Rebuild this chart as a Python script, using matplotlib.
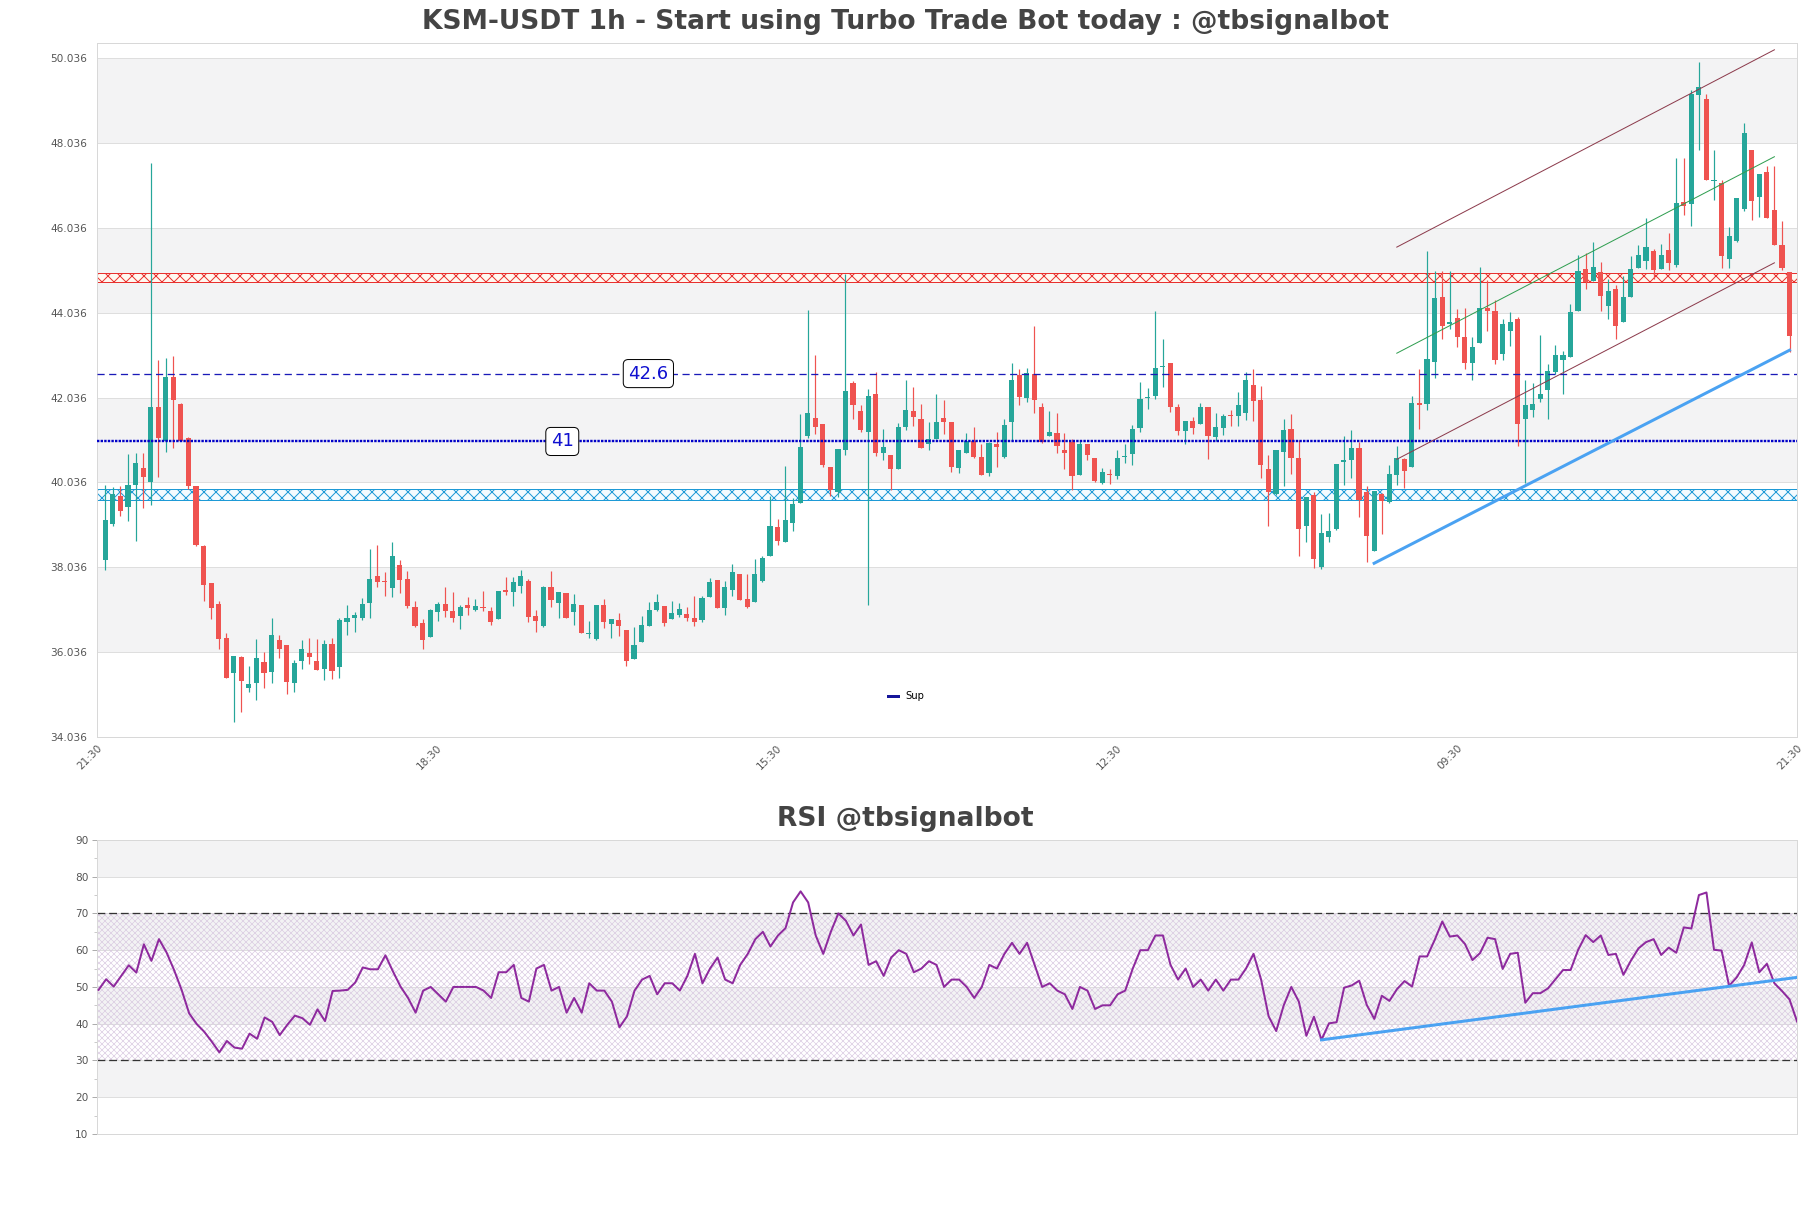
import numpy as np
import matplotlib
matplotlib.use('Agg')
import matplotlib.pyplot as plt

# ── Candles (1h) ───────────────────────────────────────────────────────────
opens = [38.21, 39.06, 39.72, 39.45, 39.97, 40.38, 40.05, 41.81, 41.01, 42.53,
         41.89, 41.09, 39.95, 38.53, 37.67, 37.17, 36.37, 35.55, 35.92, 35.19,
         35.30, 35.81, 35.57, 36.32, 36.21, 35.32, 35.83, 36.01, 35.83, 35.65,
         36.22, 35.68, 36.74, 36.85, 36.85, 37.19, 37.83, 37.70, 37.55, 38.10,
         37.76, 37.10, 36.72, 36.39, 36.99, 37.17, 37.00, 36.89, 37.15, 37.03,
         37.11, 37.00, 36.82, 37.50, 37.46, 37.60, 37.72, 36.89, 36.66, 37.56,
         37.20, 37.43, 36.99, 37.15, 36.46, 36.34, 37.15, 36.70, 36.79, 36.56,
         35.87, 36.28, 36.66, 37.03, 37.12, 36.82, 36.91, 36.93, 36.84, 36.80,
         37.34, 37.74, 37.08, 37.50, 37.87, 37.29, 37.22, 37.72, 38.29, 38.98,
         38.62, 39.09, 39.56, 41.12, 41.56, 41.42, 40.41, 39.80, 40.81, 42.37,
         41.71, 41.22, 42.11, 40.74, 40.67, 40.36, 41.34, 41.71, 41.52, 40.94,
         41.06, 41.56, 41.47, 40.37, 40.74, 41.00, 40.63, 40.26, 40.94, 40.64,
         41.45, 42.56, 42.02, 42.60, 41.81, 41.14, 41.21, 40.81, 40.98, 40.20,
         40.93, 40.60, 40.02, 40.24, 40.18, 40.63, 40.71, 41.31, 42.02, 42.08,
         42.76, 42.84, 41.82, 41.24, 41.49, 41.41, 41.81, 41.10, 41.32, 41.61,
         41.60, 41.67, 42.34, 41.97, 40.36, 39.76, 40.75, 41.30, 40.60, 39.00,
         39.74, 38.05, 38.76, 38.93, 40.51, 40.56, 40.85, 39.80, 38.43, 39.77,
         39.57, 40.20, 40.59, 40.39, 41.90, 41.89, 42.87, 44.41, 43.78, 43.92,
         43.47, 42.84, 43.33, 44.15, 44.08, 43.05, 43.60, 43.88, 41.54, 41.75,
         42.01, 42.21, 42.64, 42.93, 42.99, 44.08, 45.06, 44.78, 45.00, 44.20,
         44.60, 43.81, 44.40, 45.08, 45.26, 45.48, 45.07, 45.52, 45.16, 46.64,
         46.60, 49.16, 49.08, 47.13, 47.09, 45.30, 45.73, 46.48, 47.88, 46.76,
         47.35, 46.46, 45.63, 45.00]
highs = [39.98, 39.92, 39.94, 40.70, 40.74, 40.74, 47.57, 42.92, 42.96, 43.01,
         41.91, 41.10, 39.96, 38.55, 37.67, 37.23, 36.48, 35.95, 35.95, 35.70,
         36.34, 36.03, 36.84, 36.45, 36.21, 35.85, 36.32, 36.38, 36.34, 36.32,
         36.38, 36.84, 37.14, 36.97, 37.32, 38.47, 38.57, 37.92, 38.63, 38.21,
         37.94, 37.23, 36.81, 37.05, 37.21, 37.56, 37.46, 37.15, 37.34, 37.29,
         37.48, 37.11, 37.48, 37.80, 37.80, 37.96, 37.76, 37.03, 37.60, 37.95,
         37.46, 37.43, 37.41, 37.15, 36.76, 37.15, 37.29, 36.82, 36.95, 36.56,
         36.63, 36.89, 37.21, 37.41, 37.12, 37.24, 37.19, 37.09, 37.37, 37.35,
         37.78, 37.74, 37.71, 38.11, 37.87, 37.87, 38.22, 38.30, 39.71, 39.17,
         40.43, 39.67, 41.65, 44.11, 43.03, 41.42, 40.41, 40.83, 44.94, 42.42,
         41.87, 42.24, 42.64, 41.30, 40.67, 41.44, 42.44, 42.28, 41.89, 41.45,
         42.11, 41.97, 41.47, 40.81, 41.19, 41.33, 40.93, 40.98, 41.23, 41.53,
         42.86, 42.70, 42.72, 43.71, 41.91, 41.71, 41.67, 41.20, 41.07, 41.04,
         40.93, 40.60, 40.38, 40.34, 40.81, 40.93, 41.40, 42.41, 42.25, 44.07,
         43.41, 42.84, 41.89, 41.49, 41.57, 41.91, 41.81, 41.66, 41.64, 41.74,
         42.16, 42.64, 42.70, 42.30, 40.67, 40.81, 41.53, 41.64, 41.04, 39.70,
         39.82, 39.30, 39.31, 40.47, 41.14, 41.26, 40.99, 39.94, 39.84, 39.78,
         40.45, 40.90, 40.61, 42.08, 42.70, 45.48, 45.02, 45.02, 45.02, 44.13,
         44.15, 43.47, 45.10, 44.81, 44.34, 43.88, 44.04, 43.94, 42.46, 42.38,
         43.50, 42.82, 43.28, 43.13, 44.23, 45.40, 45.44, 45.69, 45.23, 44.82,
         44.69, 44.91, 45.36, 45.62, 46.26, 45.54, 45.66, 45.91, 47.68, 47.68,
         49.28, 49.95, 49.20, 47.88, 47.15, 46.05, 46.74, 48.51, 47.88, 47.30,
         47.49, 47.49, 46.19, 45.00]
lows = [37.98, 39.01, 39.25, 39.12, 38.65, 39.43, 39.50, 40.16, 40.75, 40.84,
        41.00, 39.88, 38.53, 37.25, 36.81, 36.10, 35.42, 34.39, 34.63, 35.10,
        34.90, 35.18, 35.30, 35.90, 35.06, 35.10, 35.64, 35.76, 35.61, 35.39,
        35.41, 35.43, 36.44, 36.50, 36.79, 36.85, 37.57, 37.37, 37.34, 37.43,
        37.08, 36.63, 36.10, 36.39, 36.78, 36.87, 36.75, 36.58, 36.92, 37.00,
        37.00, 36.68, 36.82, 37.38, 37.13, 37.42, 36.75, 36.52, 36.62, 37.09,
        36.83, 36.85, 36.68, 36.48, 36.36, 36.33, 36.61, 36.37, 36.41, 35.70,
        35.87, 36.28, 36.66, 37.01, 36.66, 36.82, 36.87, 36.77, 36.66, 36.75,
        37.34, 37.08, 36.92, 37.37, 37.27, 37.08, 37.22, 37.68, 38.29, 38.55,
        38.62, 38.88, 39.56, 41.08, 41.18, 40.39, 39.72, 39.69, 40.69, 41.54,
        41.22, 37.15, 40.65, 40.57, 39.86, 40.36, 41.28, 41.37, 40.84, 40.81,
        41.06, 41.18, 40.28, 40.26, 40.74, 40.60, 40.20, 40.18, 40.41, 40.61,
        41.04, 41.87, 41.93, 41.67, 40.96, 41.14, 40.73, 40.35, 39.86, 40.20,
        40.57, 40.04, 40.00, 40.00, 40.11, 40.49, 40.44, 41.22, 41.77, 42.00,
        42.28, 41.70, 41.15, 40.93, 41.18, 41.41, 40.59, 41.02, 41.15, 41.36,
        41.37, 41.50, 41.49, 40.15, 39.02, 39.75, 39.94, 40.23, 38.29, 38.62,
        38.01, 37.99, 38.63, 38.92, 39.97, 40.15, 39.21, 38.15, 38.43, 38.82,
        39.55, 39.97, 39.90, 40.39, 41.30, 41.75, 42.50, 43.41, 43.66, 43.23,
        42.70, 42.45, 43.33, 43.60, 42.82, 42.92, 43.26, 40.89, 40.02, 41.58,
        41.93, 41.54, 42.58, 42.13, 42.99, 44.08, 44.59, 44.78, 44.08, 43.89,
        43.41, 43.81, 44.40, 45.08, 45.07, 44.82, 45.07, 45.05, 45.11, 46.33,
        46.08, 47.86, 47.15, 46.68, 45.08, 45.08, 45.70, 46.42, 46.23, 46.29,
        46.27, 45.62, 45.03, 43.12]
closes = [39.15, 39.77, 39.37, 39.98, 40.50, 40.16, 41.82, 41.08, 42.53, 41.98,
          41.02, 39.95, 38.56, 37.61, 37.08, 36.34, 35.43, 35.95, 35.36, 35.28,
          35.89, 35.55, 36.43, 36.10, 35.34, 35.79, 36.10, 35.92, 35.61, 36.22,
          35.59, 36.79, 36.85, 36.90, 37.17, 37.76, 37.70, 37.68, 38.29, 37.73,
          37.12, 36.65, 36.32, 37.03, 37.17, 37.01, 36.83, 37.11, 37.08, 37.12,
          37.08, 36.75, 37.48, 37.46, 37.70, 37.83, 36.87, 36.78, 37.56, 37.27,
          37.46, 36.85, 37.17, 36.48, 36.48, 37.15, 36.75, 36.82, 36.66, 35.83,
          36.20, 36.68, 37.04, 37.21, 36.72, 36.96, 37.05, 36.85, 36.75, 37.32,
          37.69, 37.08, 37.58, 37.92, 37.27, 37.11, 37.88, 38.26, 39.01, 38.66,
          39.15, 39.53, 40.86, 41.66, 41.34, 40.45, 39.86, 40.83, 42.18, 41.86,
          41.26, 42.08, 40.74, 40.86, 40.34, 41.34, 41.73, 41.57, 40.84, 41.06,
          41.45, 41.47, 40.39, 40.81, 41.00, 40.64, 40.20, 40.97, 40.86, 41.40,
          42.44, 42.04, 42.62, 41.97, 40.98, 41.23, 40.90, 40.74, 40.18, 40.93,
          40.69, 40.08, 40.27, 40.21, 40.60, 40.65, 41.30, 42.01, 42.05, 42.72,
          42.79, 41.81, 41.24, 41.49, 41.31, 41.81, 41.12, 41.34, 41.60, 41.60,
          41.87, 42.44, 41.95, 40.44, 39.82, 40.81, 41.28, 40.61, 38.93, 39.69,
          38.23, 38.84, 38.89, 40.47, 40.57, 40.85, 39.61, 38.78, 39.84, 39.59,
          40.24, 40.61, 40.30, 41.91, 41.87, 42.95, 44.39, 43.72, 43.80, 43.46,
          42.84, 43.23, 44.15, 44.08, 42.93, 43.76, 43.82, 41.42, 41.87, 41.89,
          42.11, 42.66, 43.04, 43.04, 44.06, 45.02, 44.75, 45.12, 44.42, 44.54,
          43.71, 44.40, 45.07, 45.40, 45.58, 45.05, 45.40, 45.21, 46.63, 46.55,
          49.19, 49.36, 47.15, 47.15, 45.37, 45.84, 46.74, 48.26, 46.66, 47.30,
          46.27, 45.62, 45.08, 43.48]

# ── RSI ────────────────────────────────────────────────────────────────────
rsi = [49.2, 52.1, 50.1, 53.0, 55.9, 53.9, 61.6, 57.1, 63.0, 59.4,
       54.6, 49.2, 42.8, 39.9, 37.8, 35.1, 32.2, 35.3, 33.5, 33.2,
       37.3, 35.9, 41.7, 40.5, 36.9, 39.7, 42.2, 41.5, 39.7, 43.9,
       40.7, 48.9, 49.0, 49.2, 51.2, 55.3, 54.8, 54.8, 58.6, 54.2,
       50.1, 47.0,
       43, 49, 50, 48, 46, 50, 50, 50, 50, 49, 47,
       54, 54, 56, 47, 46, 55, 56, 49, 50, 43,
       47, 43, 51, 49, 49, 46, 39, 42, 49, 52,
       53, 48, 51, 51, 49, 53, 59, 51, 55, 58,
       52, 51, 56, 59, 63, 65, 61, 64, 66, 73,
       76, 73, 64, 59, 65, 70, 68, 64, 67, 56,
       57, 53, 58, 60, 59, 54, 55, 57, 56, 50,
       52, 52, 50, 47, 50, 56, 55, 59, 62, 59,
       62, 56, 50, 51, 49, 48, 44, 50, 49, 44,
       45, 45, 48, 49, 55, 60, 60, 64, 64, 56,
       52, 55, 50, 52, 49, 52, 49, 52, 52, 55,
       59, 52, 42, 38, 45, 50, 46,
       36.7, 41.9, 35.6, 40.1, 40.4, 49.8, 50.4, 51.7, 45.1, 41.3,
       47.6, 46.2, 49.4, 51.6, 50.1, 58.3, 58.3, 62.8, 67.8, 63.7,
       64.0, 61.7, 57.3, 59.2, 63.4, 63.0, 54.9, 59.0, 59.3, 45.7,
       48.3, 48.3, 49.6, 52.1, 54.6, 54.6, 60.1, 64.1, 62.2, 64.0,
       58.7, 59.0, 53.3, 57.2, 60.5, 62.2, 63.0, 58.7, 60.7, 59.3,
       66.2, 65.9, 75.0, 75.7, 60.1, 59.9, 50.3, 52.6, 56.0, 62.1,
       54.0, 56.3, 51.0, 48.9, 46.6, 40.6]

xtick_labels = ['21:30', '18:30', '15:30', '12:30', '09:30', '21:30']
price_ticks = [34.036, 36.036, 38.036, 40.036, 42.036, 44.036, 46.036, 48.036, 50.036]
rsi_ticks = [10, 20, 30, 40, 50, 60, 70, 80, 90]

# levels drawn on the chart
res_zone = (44.75, 44.98)
sup_zone = (39.63, 39.885)
level_dash = 42.6
level_sup = 41.0
trend_x, trend_y = [168, 223], [38.13, 43.15]
chan_x = [171, 221]
chan_up, chan_mid, chan_lo = [45.58, 50.23], [43.08, 47.71], [40.58, 45.21]
rsi_trend_x, rsi_trend_y = [162, 225], [35.6, 52.6]

# ── Colours ────────────────────────────────────────────────────────────────
UP, DOWN = '#26a69a', '#ef5350'
BAND = '#f3f3f4'
GRID = '#dedede'
TXT = '#555555'

DPI = 72
fig = plt.figure(figsize=(1811 / DPI, 1208 / DPI), dpi=DPI)
fig.patch.set_facecolor('white')

ax = fig.add_axes([0.0536, 0.3899, 0.9387, 0.5745])
ax2 = fig.add_axes([0.0536, 0.0613, 0.9387, 0.2434])

# ── Price panel ────────────────────────────────────────────────────────────
ymin, ymax = 34.036, 50.39
xmin, xmax = -1.1, len(opens) + 0.0
ax.set_xlim(xmin, xmax)
ax.set_ylim(ymin, ymax)

for k in range(len(price_ticks) - 1):
    if k % 2 == 1:
        ax.axhspan(price_ticks[k], price_ticks[k + 1], color=BAND, lw=0, zorder=0)
for t in price_ticks:
    ax.axhline(t, color=GRID, lw=1, zorder=0.5)


def zone(a, lo, hi, col, hatch='xx', hlw=1.0, lw=1.0, fc='none'):
    p = a.axhspan(lo, hi, facecolor=fc, edgecolor=col, hatch=hatch, lw=lw, zorder=1)
    try:
        p.set_hatch_linewidth(hlw)
    except AttributeError:
        pass
    return p


zone(ax, res_zone[0], res_zone[1], '#e8312f', fc='#fff8f0')
zone(ax, sup_zone[0], sup_zone[1], '#1e9ad6', fc='#f4fbff')

x = np.arange(len(opens))
o = np.array(opens); h = np.array(highs); l = np.array(lows); c = np.array(closes)
cols = [UP if cc >= oo else DOWN for oo, cc in zip(o, c)]
body_lo = np.minimum(o, c)
body_h = np.maximum(np.abs(c - o), 0.03)
ax.vlines(x, l, h, colors=cols, lw=1.2, zorder=3)
ax.bar(x, body_h, bottom=body_lo, width=0.68, color=cols, lw=0, zorder=3)

ax.axhline(level_dash, color='#1a1ab8', lw=1.3, dashes=(5.5, 3.5), zorder=4)
ax.axhline(level_sup, color='#0000c8', lw=2.4, linestyle=(0, (1, 0.5)), zorder=4, label='Sup')

ax.plot(chan_x, chan_up, color='#8c3b4c', lw=1, zorder=4)
ax.plot(chan_x, chan_lo, color='#8c3b4c', lw=1, zorder=4)
ax.plot(chan_x, chan_mid, color='#2f9e50', lw=1, zorder=4)
ax.plot(trend_x, trend_y, color='#4aa2f2', lw=3, zorder=4)

box = dict(boxstyle='round,pad=0.28', facecolor='white', edgecolor='black', lw=1)
ax.text(71.9, level_dash, '42.6', color='#1010d0', fontsize=18, ha='center', va='center',
        bbox=box, zorder=6)
ax.text(60.5, level_sup, '41', color='#1010d0', fontsize=18, ha='center', va='center',
        bbox=box, zorder=6)

leg = ax.legend(loc='center', bbox_to_anchor=(0.476, 0.059), frameon=False, fontsize=10,
                handlelength=1.0, handletextpad=0.8)
for ln in leg.get_lines():
    ln.set_linestyle('-')
    ln.set_linewidth(3)
    ln.set_color('#16169a')

ax.set_yticks(price_ticks)
ax.set_yticklabels(['%.3f' % t for t in price_ticks])
ax.set_xticks(np.linspace(xmin, xmax, len(xtick_labels)))
ax.set_xticklabels(xtick_labels, rotation=45, ha='right', rotation_mode='anchor')
ax.tick_params(axis='both', labelsize=10.5, labelcolor=TXT, length=0)
ax.tick_params(axis='y', pad=10)
ax.tick_params(axis='x', pad=6)
for s in ax.spines.values():
    s.set_color('#d8d8d8')
    s.set_linewidth(1)

# ── RSI panel ──────────────────────────────────────────────────────────────
ax2.set_xlim(-0.2, len(rsi) - 1)
ax2.set_ylim(10, 90)
for lo_, hi_ in [(80, 90), (60, 70), (40, 50), (20, 30)]:
    ax2.axhspan(lo_, hi_, color=BAND, lw=0, zorder=0)
for t in rsi_ticks:
    ax2.axhline(t, color=GRID, lw=1, zorder=0.5)
zone(ax2, 30, 70, '#d8c8e0', hatch='xxxx', hlw=0.6, lw=0)
ax2.axhline(70, color='#333333', lw=1.3, dashes=(6, 3), zorder=2)
ax2.axhline(30, color='#333333', lw=1.3, dashes=(6, 3), zorder=2)
ax2.plot(np.arange(len(rsi)), rsi, color='#8e2a9e', lw=2, zorder=3)
ax2.plot(rsi_trend_x, rsi_trend_y, color='#4aa2f2', lw=3, zorder=4)

ax2.set_yticks(rsi_ticks)
ax2.set_yticks(np.arange(15, 90, 10), minor=True)
ax2.set_xticks([])
ax2.tick_params(axis='y', which='major', labelsize=10.5, labelcolor=TXT, color='#999999', length=5)
ax2.tick_params(axis='y', which='minor', color='#aaaaaa', length=3)
for s in ax2.spines.values():
    s.set_color('#d8d8d8')
    s.set_linewidth(1)

# ── Titles ─────────────────────────────────────────────────────────────────
fig.text(0.5, 0.9818, 'KSM-USDT 1h - Start using Turbo Trade Bot today : @tbsignalbot',
         ha='center', va='center', fontsize=26.5, fontweight='bold', color='#444444')
fig.text(0.5, 0.322, 'RSI @tbsignalbot', ha='center', va='center', fontsize=26.5,
         fontweight='bold', color='#444444')

fig.savefig('out.png', dpi=DPI, facecolor='white')
